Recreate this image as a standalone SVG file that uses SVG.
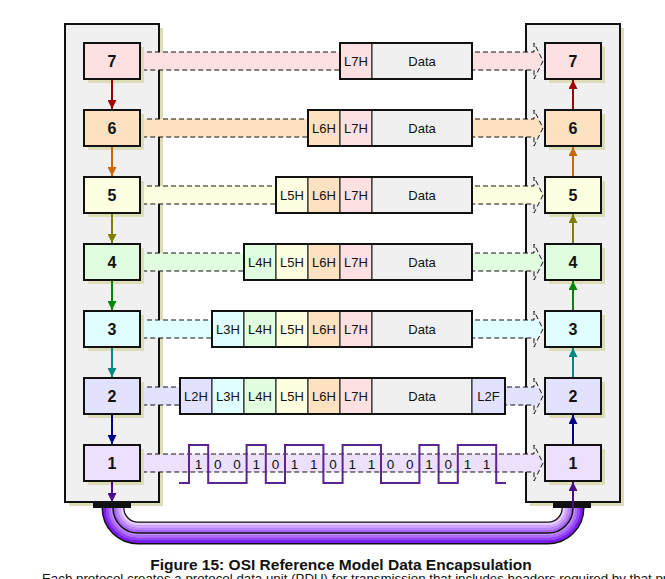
<svg xmlns="http://www.w3.org/2000/svg" width="665" height="579" viewBox="0 0 665 579">
<style>
.bg{fill:#ffffff}
.panel{fill:#f0f0f0;stroke:#111;stroke-width:2}
.shadow{fill:#dcdcb6}
.node{stroke:#111;stroke-width:2}
.num{font-family:"Liberation Sans",Arial,sans-serif;font-weight:bold;font-size:16px;text-anchor:middle;fill:#111}
.bline{fill:none;stroke:#111;stroke-width:1;stroke-dasharray:5 3}
.cell{stroke:#111;stroke-width:1}
.frame{fill:none;stroke:#111;stroke-width:2}
.lbl{font-family:"Liberation Sans",Arial,sans-serif;font-size:13px;text-anchor:middle;fill:#111}
.arr{fill:none;stroke-width:2}
.wave{fill:none;stroke:#5c2392;stroke-width:2}
.bit{font-family:"Liberation Sans",Arial,sans-serif;font-size:13.5px;text-anchor:middle;fill:#111}
.c7{fill:#fde0e2}.c6{fill:#fde2c2}.c5{fill:#fefee0}.c4{fill:#e0fde0}.c3{fill:#e0fefe}.c2{fill:#e2e2fe}.c1{fill:#ece0fc}.cd{fill:#f0f0f0}
.tube{fill:none}
.cap{font-family:"Liberation Sans",Arial,sans-serif;font-weight:bold;font-size:15.5px;text-anchor:middle;fill:#111}
.sub{font-family:"Liberation Sans",Arial,sans-serif;font-size:13.3px;fill:#111}
</style>
<defs>
<marker id="m7" markerUnits="userSpaceOnUse" markerWidth="9" markerHeight="9" refX="9" refY="4.5" orient="auto"><path d="M0,0 L9,4.5 L0,9 z" fill="#a00000"/></marker>
<marker id="m6" markerUnits="userSpaceOnUse" markerWidth="9" markerHeight="9" refX="9" refY="4.5" orient="auto"><path d="M0,0 L9,4.5 L0,9 z" fill="#cc6600"/></marker>
<marker id="m5" markerUnits="userSpaceOnUse" markerWidth="9" markerHeight="9" refX="9" refY="4.5" orient="auto"><path d="M0,0 L9,4.5 L0,9 z" fill="#808000"/></marker>
<marker id="m4" markerUnits="userSpaceOnUse" markerWidth="9" markerHeight="9" refX="9" refY="4.5" orient="auto"><path d="M0,0 L9,4.5 L0,9 z" fill="#008800"/></marker>
<marker id="m3" markerUnits="userSpaceOnUse" markerWidth="9" markerHeight="9" refX="9" refY="4.5" orient="auto"><path d="M0,0 L9,4.5 L0,9 z" fill="#008888"/></marker>
<marker id="m2" markerUnits="userSpaceOnUse" markerWidth="9" markerHeight="9" refX="9" refY="4.5" orient="auto"><path d="M0,0 L9,4.5 L0,9 z" fill="#000088"/></marker>
<marker id="m1" markerUnits="userSpaceOnUse" markerWidth="9" markerHeight="9" refX="9" refY="4.5" orient="auto"><path d="M0,0 L9,4.5 L0,9 z" fill="#4e0a8c"/></marker>
</defs>
<rect class="bg" x="0" y="0" width="665" height="579"/>

<!-- stacks -->
<g id="stack-left">
<rect class="shadow" x="69" y="28" width="94" height="478"/>
<rect class="panel" x="65" y="24" width="94" height="478"/>
</g>
<g id="stack-right">
<rect class="shadow" x="530" y="28" width="94" height="478"/>
<rect class="panel" x="526" y="24" width="94" height="478"/>
</g>

<!-- peer-to-peer bands -->
<g id="bands">
<path class="c7" d="M140,52 H538.5 L543,61 L538.5,70 H140 Z"/>
<path class="bline" d="M141,70 V52 H534 V43 L543,61 L534,79 V70 Z"/>
<path class="c6" d="M140,119 H538.5 L543,128 L538.5,137 H140 Z"/>
<path class="bline" d="M141,137 V119 H534 V110 L543,128 L534,146 V137 Z"/>
<path class="c5" d="M140,186 H538.5 L543,195 L538.5,204 H140 Z"/>
<path class="bline" d="M141,204 V186 H534 V177 L543,195 L534,213 V204 Z"/>
<path class="c4" d="M140,253 H538.5 L543,262 L538.5,271 H140 Z"/>
<path class="bline" d="M141,271 V253 H534 V244 L543,262 L534,280 V271 Z"/>
<path class="c3" d="M140,320 H538.5 L543,329 L538.5,338 H140 Z"/>
<path class="bline" d="M141,338 V320 H534 V311 L543,329 L534,347 V338 Z"/>
<path class="c2" d="M140,387 H538.5 L543,396 L538.5,405 H140 Z"/>
<path class="bline" d="M141,405 V387 H534 V378 L543,396 L534,414 V405 Z"/>
<path class="c1" d="M140,454 H538.5 L543,463 L538.5,472 H140 Z"/>
<path class="bline" d="M141,472 V454 H534 V445 L543,463 L534,481 V472 Z"/>
</g>

<!-- PDUs -->
<g id="pdu7">
<rect class="cell c7" x="340" y="43" width="32" height="36"/>
<rect class="cell cd" x="372" y="43" width="100" height="36"/>
<rect class="frame" x="340" y="43" width="132" height="36"/>
<text class="lbl" x="356" y="65.5">L7H</text><text class="lbl" x="422" y="65.5">Data</text>
</g>
<g id="pdu6">
<rect class="cell c6" x="308" y="110" width="32" height="36"/>
<rect class="cell c7" x="340" y="110" width="32" height="36"/>
<rect class="cell cd" x="372" y="110" width="100" height="36"/>
<rect class="frame" x="308" y="110" width="164" height="36"/>
<text class="lbl" x="324" y="132.5">L6H</text><text class="lbl" x="356" y="132.5">L7H</text><text class="lbl" x="422" y="132.5">Data</text>
</g>
<g id="pdu5">
<rect class="cell c5" x="276" y="177" width="32" height="36"/>
<rect class="cell c6" x="308" y="177" width="32" height="36"/>
<rect class="cell c7" x="340" y="177" width="32" height="36"/>
<rect class="cell cd" x="372" y="177" width="100" height="36"/>
<rect class="frame" x="276" y="177" width="196" height="36"/>
<text class="lbl" x="292" y="199.5">L5H</text><text class="lbl" x="324" y="199.5">L6H</text><text class="lbl" x="356" y="199.5">L7H</text><text class="lbl" x="422" y="199.5">Data</text>
</g>
<g id="pdu4">
<rect class="cell c4" x="244" y="244" width="32" height="36"/>
<rect class="cell c5" x="276" y="244" width="32" height="36"/>
<rect class="cell c6" x="308" y="244" width="32" height="36"/>
<rect class="cell c7" x="340" y="244" width="32" height="36"/>
<rect class="cell cd" x="372" y="244" width="100" height="36"/>
<rect class="frame" x="244" y="244" width="228" height="36"/>
<text class="lbl" x="260" y="266.5">L4H</text><text class="lbl" x="292" y="266.5">L5H</text><text class="lbl" x="324" y="266.5">L6H</text><text class="lbl" x="356" y="266.5">L7H</text><text class="lbl" x="422" y="266.5">Data</text>
</g>
<g id="pdu3">
<rect class="cell c3" x="212" y="311" width="32" height="36"/>
<rect class="cell c4" x="244" y="311" width="32" height="36"/>
<rect class="cell c5" x="276" y="311" width="32" height="36"/>
<rect class="cell c6" x="308" y="311" width="32" height="36"/>
<rect class="cell c7" x="340" y="311" width="32" height="36"/>
<rect class="cell cd" x="372" y="311" width="100" height="36"/>
<rect class="frame" x="212" y="311" width="260" height="36"/>
<text class="lbl" x="228" y="333.5">L3H</text><text class="lbl" x="260" y="333.5">L4H</text><text class="lbl" x="292" y="333.5">L5H</text><text class="lbl" x="324" y="333.5">L6H</text><text class="lbl" x="356" y="333.5">L7H</text><text class="lbl" x="422" y="333.5">Data</text>
</g>
<g id="pdu2">
<rect class="cell c2" x="180" y="378" width="32" height="36"/>
<rect class="cell c3" x="212" y="378" width="32" height="36"/>
<rect class="cell c4" x="244" y="378" width="32" height="36"/>
<rect class="cell c5" x="276" y="378" width="32" height="36"/>
<rect class="cell c6" x="308" y="378" width="32" height="36"/>
<rect class="cell c7" x="340" y="378" width="32" height="36"/>
<rect class="cell cd" x="372" y="378" width="100" height="36"/>
<rect class="cell c2" x="472" y="378" width="33" height="36"/>
<rect class="frame" x="180" y="378" width="325" height="36"/>
<text class="lbl" x="196" y="400.5">L2H</text><text class="lbl" x="228" y="400.5">L3H</text><text class="lbl" x="260" y="400.5">L4H</text><text class="lbl" x="292" y="400.5">L5H</text><text class="lbl" x="324" y="400.5">L6H</text><text class="lbl" x="356" y="400.5">L7H</text><text class="lbl" x="422" y="400.5">Data</text><text class="lbl" x="488.5" y="400.5">L2F</text>
</g>

<!-- bit stream -->
<g id="bits">
<path class="wave" d="M179,483 H189 V445 H208.2 V483 H246.6 V445 H265.8 V483 H285 V445 H323.4 V483 H342.6 V445 H381 V483 H419.4 V445 H438.6 V483 H457.8 V445 H496.2 V483 H506"/>
<text class="bit" x="198.6" y="468.5">1</text>
<text class="bit" x="217.8" y="468.5">0</text>
<text class="bit" x="237" y="468.5">0</text>
<text class="bit" x="256.2" y="468.5">1</text>
<text class="bit" x="275.4" y="468.5">0</text>
<text class="bit" x="294.6" y="468.5">1</text>
<text class="bit" x="313.8" y="468.5">1</text>
<text class="bit" x="333" y="468.5">0</text>
<text class="bit" x="352.2" y="468.5">1</text>
<text class="bit" x="371.4" y="468.5">1</text>
<text class="bit" x="390.6" y="468.5">0</text>
<text class="bit" x="409.8" y="468.5">0</text>
<text class="bit" x="429" y="468.5">1</text>
<text class="bit" x="448.2" y="468.5">0</text>
<text class="bit" x="467.4" y="468.5">1</text>
<text class="bit" x="486.6" y="468.5">1</text>
</g>

<!-- layer nodes, left -->
<g id="L7"><rect class="shadow" x="88" y="47" width="56" height="36"/><rect class="node c7" x="84" y="43" width="56" height="36"/><text class="num" x="112" y="67">7</text></g>
<g id="L6"><rect class="shadow" x="88" y="114" width="56" height="36"/><rect class="node c6" x="84" y="110" width="56" height="36"/><text class="num" x="112" y="134">6</text></g>
<g id="L5"><rect class="shadow" x="88" y="181" width="56" height="36"/><rect class="node c5" x="84" y="177" width="56" height="36"/><text class="num" x="112" y="201">5</text></g>
<g id="L4"><rect class="shadow" x="88" y="248" width="56" height="36"/><rect class="node c4" x="84" y="244" width="56" height="36"/><text class="num" x="112" y="268">4</text></g>
<g id="L3"><rect class="shadow" x="88" y="315" width="56" height="36"/><rect class="node c3" x="84" y="311" width="56" height="36"/><text class="num" x="112" y="335">3</text></g>
<g id="L2"><rect class="shadow" x="88" y="382" width="56" height="36"/><rect class="node c2" x="84" y="378" width="56" height="36"/><text class="num" x="112" y="402">2</text></g>
<g id="L1"><rect class="shadow" x="88" y="449" width="56" height="36"/><rect class="node c1" x="84" y="445" width="56" height="36"/><text class="num" x="112" y="469">1</text></g>
<!-- layer nodes, right -->
<g id="R7"><rect class="shadow" x="549" y="47" width="56" height="36"/><rect class="node c7" x="545" y="43" width="56" height="36"/><text class="num" x="573" y="67">7</text></g>
<g id="R6"><rect class="shadow" x="549" y="114" width="56" height="36"/><rect class="node c6" x="545" y="110" width="56" height="36"/><text class="num" x="573" y="134">6</text></g>
<g id="R5"><rect class="shadow" x="549" y="181" width="56" height="36"/><rect class="node c5" x="545" y="177" width="56" height="36"/><text class="num" x="573" y="201">5</text></g>
<g id="R4"><rect class="shadow" x="549" y="248" width="56" height="36"/><rect class="node c4" x="545" y="244" width="56" height="36"/><text class="num" x="573" y="268">4</text></g>
<g id="R3"><rect class="shadow" x="549" y="315" width="56" height="36"/><rect class="node c3" x="545" y="311" width="56" height="36"/><text class="num" x="573" y="335">3</text></g>
<g id="R2"><rect class="shadow" x="549" y="382" width="56" height="36"/><rect class="node c2" x="545" y="378" width="56" height="36"/><text class="num" x="573" y="402">2</text></g>
<g id="R1"><rect class="shadow" x="549" y="449" width="56" height="36"/><rect class="node c1" x="545" y="445" width="56" height="36"/><text class="num" x="573" y="469">1</text></g>

<!-- cable -->
<g id="cable">
<path class="tube" stroke="#111" stroke-width="23" d="M113,503 V508 A25,25 0 0 0 138,533 H548 A25,25 0 0 0 573,508 V503"/>
<path class="tube" stroke="#e6ccff" stroke-width="3" d="M121.75,503 V508 A16.25,16.25 0 0 0 138,524.25 H548 A16.25,16.25 0 0 0 564.25,508 V503"/>
<path class="tube" stroke="#d2a8ff" stroke-width="3" d="M119.25,503 V508 A18.75,18.75 0 0 0 138,526.75 H548 A18.75,18.75 0 0 0 566.75,508 V503"/>
<path class="tube" stroke="#bc84ff" stroke-width="3" d="M116.75,503 V508 A21.25,21.25 0 0 0 138,529.25 H548 A21.25,21.25 0 0 0 569.25,508 V503"/>
<path class="tube" stroke="#a864ff" stroke-width="2.6" d="M114.25,503 V508 A23.75,23.75 0 0 0 138,531.75 H548 A23.75,23.75 0 0 0 571.75,508 V503"/>
<path class="tube" stroke="#c690ff" stroke-width="3" d="M111.75,503 V508 A26.25,26.25 0 0 0 138,534.25 H548 A26.25,26.25 0 0 0 574.25,508 V503"/>
<path class="tube" stroke="#ae6cff" stroke-width="3" d="M109.25,503 V508 A28.75,28.75 0 0 0 138,536.75 H548 A28.75,28.75 0 0 0 576.75,508 V503"/>
<path class="tube" stroke="#9444ff" stroke-width="3" d="M106.75,503 V508 A31.25,31.25 0 0 0 138,539.25 H548 A31.25,31.25 0 0 0 579.25,508 V503"/>
<path class="tube" stroke="#7d1cf2" stroke-width="2.6" d="M104.25,503 V508 A33.75,33.75 0 0 0 138,541.75 H548 A33.75,33.75 0 0 0 581.75,508 V503"/>
<path class="tube" stroke="#111" stroke-width="1.5" d="M113,503 V508 A25,25 0 0 0 138,533 H548 A25,25 0 0 0 573,508 V503"/>
<rect x="93" y="501" width="38" height="7" fill="#111"/>
<rect x="553" y="501" width="38" height="7" fill="#111"/>
</g>

<!-- connectors -->
<g id="connectors">
<line class="arr" stroke="#a00000" x1="112" y1="80" x2="112" y2="109" marker-end="url(#m7)"/>
<line class="arr" stroke="#cc6600" x1="112" y1="147" x2="112" y2="176" marker-end="url(#m6)"/>
<line class="arr" stroke="#808000" x1="112" y1="214" x2="112" y2="243" marker-end="url(#m5)"/>
<line class="arr" stroke="#008800" x1="112" y1="281" x2="112" y2="310" marker-end="url(#m4)"/>
<line class="arr" stroke="#008888" x1="112" y1="348" x2="112" y2="377" marker-end="url(#m3)"/>
<line class="arr" stroke="#000088" x1="112" y1="415" x2="112" y2="444" marker-end="url(#m2)"/>
<line class="arr" stroke="#4e0a8c" x1="112" y1="482" x2="112" y2="502" marker-end="url(#m1)"/>
<line class="arr" stroke="#a00000" x1="573" y1="109" x2="573" y2="80" marker-end="url(#m7)"/>
<line class="arr" stroke="#cc6600" x1="573" y1="176" x2="573" y2="147" marker-end="url(#m6)"/>
<line class="arr" stroke="#808000" x1="573" y1="243" x2="573" y2="214" marker-end="url(#m5)"/>
<line class="arr" stroke="#008800" x1="573" y1="310" x2="573" y2="281" marker-end="url(#m4)"/>
<line class="arr" stroke="#008888" x1="573" y1="377" x2="573" y2="348" marker-end="url(#m3)"/>
<line class="arr" stroke="#000088" x1="573" y1="444" x2="573" y2="415" marker-end="url(#m2)"/>
<line class="arr" stroke="#4e0a8c" x1="573" y1="508" x2="573" y2="482" marker-end="url(#m1)"/>
</g>

<!-- caption -->
<text class="cap" x="341" y="570">Figure 15: OSI Reference Model Data Encapsulation</text>
<text class="sub" x="42" y="583">Each protocol creates a protocol data unit (PDU) for transmission that includes headers required by that protocol</text>
</svg>
